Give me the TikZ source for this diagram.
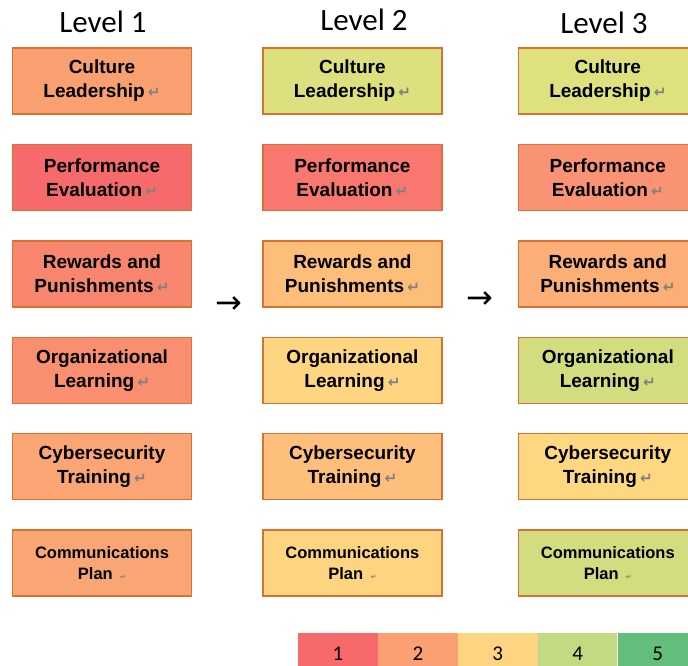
\documentclass[tikz,border=0pt]{standalone}
\usepackage{fontspec}
\setmainfont{Liberation Sans}
\newfontfamily\headfont{Carlito}
\newfontfamily\symfont{DejaVu Sans}
\usetikzlibrary{positioning}

\definecolor{edgeorange}{HTML}{D9722F}
\definecolor{retgray}{HTML}{808080}
\definecolor{scaleone}{HTML}{F8696B}
\definecolor{scaletwo}{HTML}{FAA073}
\definecolor{scalethree}{HTML}{FDD581}
\definecolor{scalefour}{HTML}{C2DA81}
\definecolor{scalefive}{HTML}{63BE7B}
% cell fills, level by level
\definecolor{cultone}{HTML}{F9A071}
\definecolor{perfone}{HTML}{F76A6C}
\definecolor{rewone}{HTML}{F8866F}
\definecolor{orgone}{HTML}{F98F70}
\definecolor{cyberone}{HTML}{FAA573}
\definecolor{commone}{HTML}{FAA674}
\definecolor{culttwo}{HTML}{DCE07E}
\definecolor{perftwo}{HTML}{F8776F}
\definecolor{rewtwo}{HTML}{FDBE7A}
\definecolor{orgtwo}{HTML}{FED580}
\definecolor{cybertwo}{HTML}{FDBF7B}
\definecolor{commtwo}{HTML}{FDD480}
\definecolor{cultthree}{HTML}{DEE17E}
\definecolor{perfthree}{HTML}{F99373}
\definecolor{rewthree}{HTML}{FBAF76}
\definecolor{orgthree}{HTML}{D2DD80}
\definecolor{cyberthree}{HTML}{FED880}
\definecolor{commthree}{HTML}{D3DD7F}

\newcommand{\retmark}{{\symfont\fontsize{15}{15}\selectfont\color{retgray}↵}}
\newcommand{\cellmark}{{\symfont\fontsize{7}{7}\selectfont\color{retgray}↵}}

\begin{document}
\begin{tikzpicture}[
        x=1pt, y=-1pt,
        node distance=29pt and 70pt,
        cell/.style={draw=edgeorange, line width=1.4pt, minimum width=179pt, minimum height=66pt, inner sep=0pt, align=center, font=\fontsize{19}{24}\selectfont\bfseries},
        smallcell/.style={cell, font=\fontsize{16.5}{21}\selectfont\bfseries},
        level/.style={font=\headfont\fontsize{31}{31}\selectfont},
        flow/.style={font=\symfont\fontsize{32}{32}\selectfont, inner sep=0pt},
        key/.style={minimum width=79.5pt, minimum height=42pt, inner sep=0pt, font=\headfont\fontsize{21}{21}\selectfont},
      ]

      \useasboundingbox (0,0) rectangle (688,666);

      % headings
      \node[level] (lev1) at (103,21.5) {Level 1};
      \node[level] (lev2) at (364,19.5) {Level 2};
      \node[level] (lev3) at (604,22.5) {Level 3};

      % level 1
      \node[cell, fill=cultone] (cult1) at (102,81) {Culture\\Leadership\,\retmark};
      \node[cell, fill=perfone, below=of cult1] (perf1) {Performance\\Evaluation\,\retmark};
      \node[cell, fill=rewone, below=of perf1] (rew1) {Rewards and\\Punishments\,\retmark};
      \node[cell, fill=orgone, below=of rew1] (org1) {Organizational\\Learning\,\retmark};
      \node[cell, fill=cyberone, below=of org1] (cyber1) {Cybersecurity\\Training\,\retmark};
      \node[smallcell, fill=commone, below=of cyber1] (comm1) {Communications\\Plan\, \cellmark};

      % level 2
      \node[cell, fill=culttwo, right=of cult1] (cult2) {Culture\\Leadership\,\retmark};
      \node[cell, fill=perftwo, below=of cult2] (perf2) {Performance\\Evaluation\,\retmark};
      \node[cell, fill=rewtwo, below=of perf2] (rew2) {Rewards and\\Punishments\,\retmark};
      \node[cell, fill=orgtwo, below=of rew2] (org2) {Organizational\\Learning\,\retmark};
      \node[cell, fill=cybertwo, below=of org2] (cyber2) {Cybersecurity\\Training\,\retmark};
      \node[smallcell, fill=commtwo, below=of cyber2] (comm2) {Communications\\Plan\, \cellmark};

      % level 3
      \node[cell, fill=cultthree, right=75pt of cult2] (cult3) {Culture\\Leadership\,\retmark};
      \node[cell, fill=perfthree, below=of cult3] (perf3) {Performance\\Evaluation\,\retmark};
      \node[cell, fill=rewthree, below=of perf3] (rew3) {Rewards and\\Punishments\,\retmark};
      \node[cell, fill=orgthree, below=of rew3] (org3) {Organizational\\Learning\,\retmark};
      \node[cell, fill=cyberthree, below=of org3] (cyber3) {Cybersecurity\\Training\,\retmark};
      \node[smallcell, fill=commthree, below=of cyber3] (comm3) {Communications\\Plan\, \cellmark};

      % arrows between levels
      \node[flow] (next12) at (229,305) {→};
      \node[flow] (next23) at (480,300) {→};

      % colour scale
      \node[key, fill=scaleone] (key1) at (338,654) {1};
      \node[key, fill=scaletwo, right=0pt of key1] (key2) {2};
      \node[key, fill=scalethree, right=0pt of key2] (key3) {3};
      \node[key, fill=scalefour, right=0pt of key3] (key4) {4};
      \node[key, fill=scalefive, right=0pt of key4] (key5) {5};

    \end{tikzpicture}
\end{document}
